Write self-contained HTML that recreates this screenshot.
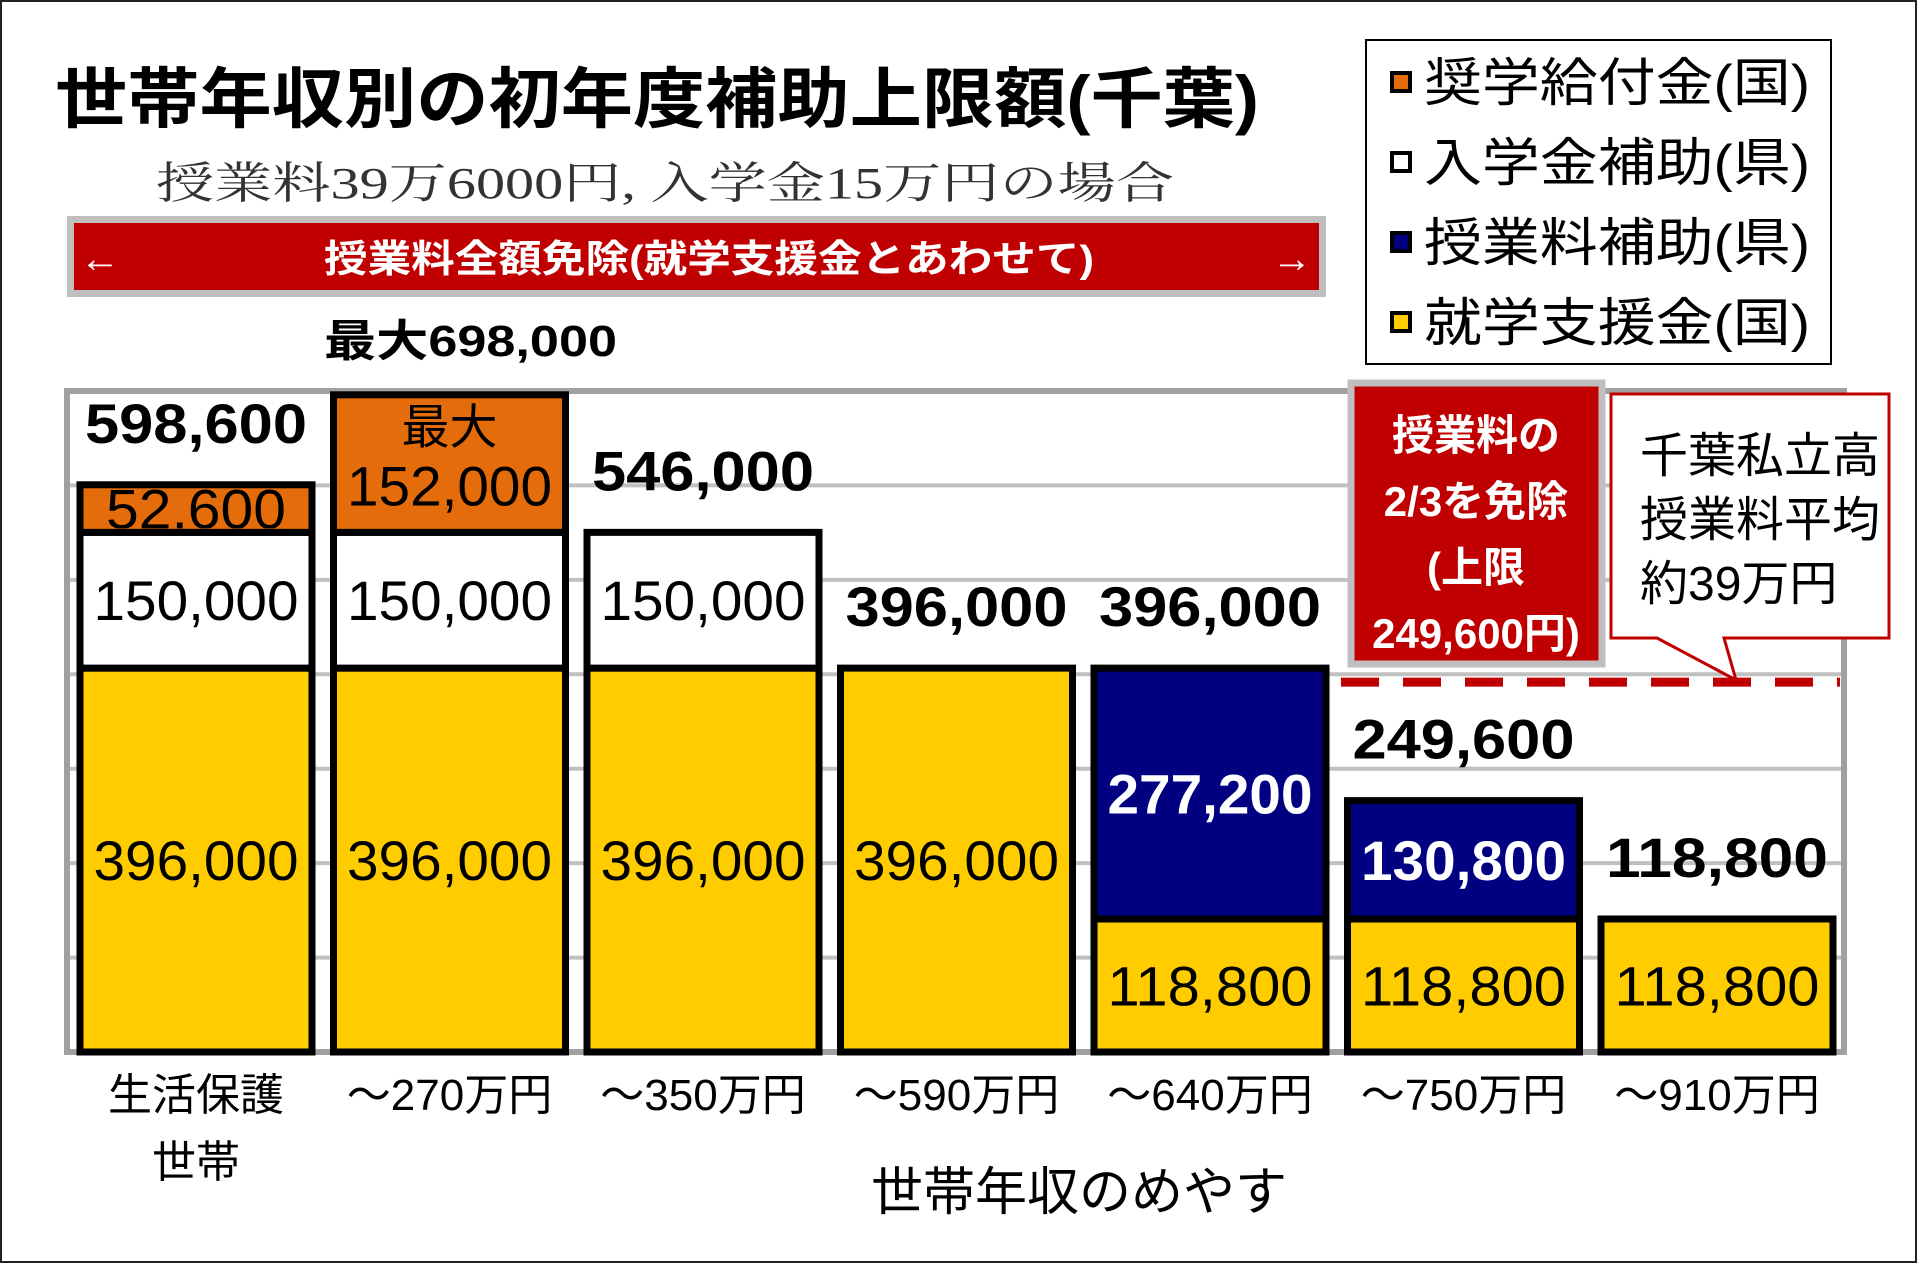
<!DOCTYPE html>
<html><head><meta charset="utf-8">
<style>
html,body{margin:0;padding:0;background:#fff;}
svg{display:block;}
text{font-family:"Liberation Sans","Noto Sans CJK JP",sans-serif;}
</style></head>
<body>
<svg id="chart" xmlns="http://www.w3.org/2000/svg" width="1917" height="1263" viewBox="0 0 1917 1263">
<rect x="1" y="1" width="1915" height="1261" fill="#fff" stroke="#222" stroke-width="2"/>
<text x="55" y="122" font-size="66" font-weight="bold" textLength="1204" lengthAdjust="spacingAndGlyphs">世帯年収別の初年度補助上限額(千葉)</text>
<text x="156" y="198" font-size="44" fill="#333" style="font-family:'Liberation Serif','Noto Serif CJK SC',serif" textLength="1018" lengthAdjust="spacingAndGlyphs">授業料39万6000円, 入学金15万円の場合</text>
<g>
<rect x="67" y="216" width="1259" height="81" fill="#bfbfbf"/>
<rect x="74" y="223" width="1245" height="67" fill="#c00000"/>
<text x="80" y="272" font-size="40" fill="#fff">←</text>
<text x="324" y="272" font-size="38" font-weight="bold" fill="#fff" textLength="770" lengthAdjust="spacingAndGlyphs">授業料全額免除(就学支援金とあわせて)</text>
<text x="1272" y="272" font-size="40" fill="#fff">→</text>
</g>
<text x="324" y="356" font-size="44" font-weight="bold" textLength="293" lengthAdjust="spacingAndGlyphs">最大698,000</text>
<g>
<rect x="1366" y="40" width="465" height="324" fill="#fff" stroke="#000" stroke-width="2"/>
</g>
<g id="plot"></g>
</svg>
<script>
const categories = ["生活保護|世帯","～270万円","～350万円","～590万円","～640万円","～750万円","～910万円"];
const yellowVals = [396000,396000,396000,396000,118800,118800,118800];
const navyVals = [0,0,0,0,277200,130800,0];
const whiteVals = [150000,150000,150000,0,0,0,0];
const orangeVals = [52600,152000,0,0,0,0,0];
const segLabels = {yellow:["396,000","396,000","396,000","396,000","118,800","118,800","118,800"],navy:["","","","","277,200","130,800",""],white:["150,000","150,000","150,000","","","",""],orange:["52,600","152,000","","","","",""]};
const totalLabels = ["598,600","","546,000","396,000","396,000","249,600","118,800"];
const gridCount = 7;
const capValue = 249600;
const legendNames = ["奨学給付金(国)","入学金補助(県)","授業料補助(県)","就学支援金(国)"];
const legendColors = ["#e46c0a","#ffffff","#000080","#ffcc00"];

const NS = "http://www.w3.org/2000/svg";
const plot = document.getElementById('plot');
const svg = document.getElementById('chart');
const X0 = 80, PITCH = 253.5, BW = 232, BASE = 1052, TOP = 391, LEFT = 67, RIGHT = 1844;
function yScale(v){ return v <= 0 ? BASE : BASE - (25.5 + 0.000905 * v); }
function xScale(i){ return X0 + i * PITCH; }
function mk(tag, attrs, parent){ const e = document.createElementNS(NS, tag); for (const k in attrs) e.setAttribute(k, attrs[k]); (parent||plot).appendChild(e); return e; }

// frame + grid
for (let g = 1; g < gridCount; g++) {
  const y = TOP + (BASE - TOP) * g / gridCount;
  const gl = mk('line', {x1:LEFT, x2:RIGHT, y1:y, y2:y, stroke:'#c0c0c0', 'stroke-width':4});
  
  
}
const fr = mk('rect', {x:LEFT, y:TOP, width:RIGHT-LEFT, height:BASE-TOP, fill:'none', stroke:'#a0a0a0', 'stroke-width':6});



const series = [
  {key:'yellow', vals:yellowVals, fill:'#ffcc00', color:'#000', bold:false},
  {key:'navy', vals:navyVals, fill:'#000080', color:'#fff', bold:true},
  {key:'white', vals:whiteVals, fill:'#ffffff', color:'#000', bold:false},
  {key:'orange', vals:orangeVals, fill:'#e46c0a', color:'#000', bold:false}
];
categories.forEach((cat, i) => {
  let cum = 0;
  const x = xScale(i);
  series.forEach(s => {
    const v = s.vals[i];
    if (!v) return;
    const y1 = yScale(cum), y2 = yScale(cum + v);
    cum += v;
    const r = mk('rect', {x:x, y:y2, width:BW, height:y1-y2, fill:s.fill, stroke:'#000', 'stroke-width':7});
    
    
    const lab = segLabels[s.key][i];
    if (lab) {
      const cy = (y1 + y2) / 2;
      const clip = mk('clipPath', {id:'c'+s.key+i});
      mk('rect', {x:x, y:y2+4, width:BW, height:y1-y2-8}, clip);
      const t = mk('text', {x:x+BW/2, y:cy+20, 'font-size':56, 'text-anchor':'middle', fill:s.color, 'font-weight':s.bold?'bold':'normal', 'clip-path':'url(#c'+s.key+i+')', textLength:lab.length>6?205:180, lengthAdjust:'spacingAndGlyphs'});
      t.textContent = lab;
      
      
      if (s.key === 'orange' && v > 100000) {
        t.setAttribute('y', cy + 42);
        const t2 = mk('text', {x:x+BW/2, y:cy-20, 'font-size':48, 'text-anchor':'middle', fill:'#000'});
        t2.textContent = '最大';
        
        
      }
    }
  });
  if (totalLabels[i]) {
    const t = mk('text', {x:x+BW/2, y:yScale(cum)-42, 'font-size':56, 'font-weight':'bold', 'text-anchor':'middle', textLength:222, lengthAdjust:'spacingAndGlyphs'});
    t.textContent = totalLabels[i];
    
    
  }
  const parts = cat.split('|');
  parts.forEach((p, j) => {
    const t = mk('text', {x:x+BW/2, y:1110+j*67, 'font-size':44, 'text-anchor':'middle'});
    t.textContent = p;
    
    
  });
});
const xt = mk('text', {x:1079, y:1210, 'font-size':52, 'text-anchor':'middle'});
xt.textContent = '世帯年収のめやす';



// cap dashed line
const capY = yScale(396000) + 14;
const dl = mk('line', {x1:1341, x2:RIGHT-4, y1:capY, y2:capY, stroke:'#c00000', 'stroke-width':9, 'stroke-dasharray':'38 24'});



// red note box
const rb = mk('rect', {x:1351, y:383, width:251, height:281, fill:'#c00000', stroke:'#bfbfbf', 'stroke-width':7});


["授業料の","2/3を免除","(上限","249,600円)"].forEach((s, j) => {
  const t = mk('text', {x:1476, y:450+j*66, 'font-size':42, 'font-weight':'bold', fill:'#fff', 'text-anchor':'middle'});
  t.textContent = s;
  
  
});
// callout
const co = mk('path', {d:'M1611 394 H1889 V638 H1724 L1736 680 L1657 638 H1611 Z', fill:'#fff', stroke:'#c00000', 'stroke-width':3});


["千葉私立高","授業料平均","約39万円"].forEach((s, j) => {
  const t = mk('text', {x:1640, y:472+j*64, 'font-size':48});
  t.textContent = s;
  
  
});
// legend
legendNames.forEach((n, j) => {
  const y = 83 + j * 80;
  const sq = mk('rect', {x:1392, y:y-10, width:18, height:18, fill:legendColors[j], stroke:'#000', 'stroke-width':4}, svg);
  
  
  const t = mk('text', {x:1424, y:y+18, 'font-size':52, textLength:386, lengthAdjust:'spacingAndGlyphs'}, svg);
  t.textContent = n;
  
  
});
</script>
</body></html>
